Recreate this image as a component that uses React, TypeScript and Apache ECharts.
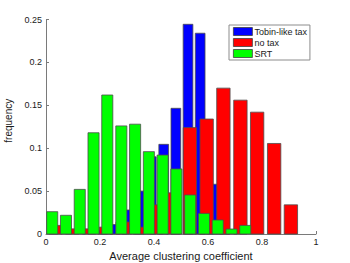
import React, { useEffect, useRef } from "react";
import * as echarts from "echarts";

// Bin centers and frequencies
const tobinCenters = [0.21, 0.255, 0.3, 0.345, 0.39, 0.436, 0.481, 0.526, 0.571, 0.616, 0.661];
const tobinValues = [0.004, 0.011, 0.028, 0.05, 0.09, 0.1045, 0.1465, 0.2444, 0.234, 0.058, 0.02];

const noTaxCenters = [0.035, 0.097, 0.16, 0.222, 0.284, 0.346, 0.408, 0.471, 0.533, 0.595, 0.657, 0.72, 0.782, 0.845, 0.907];
const noTaxValues = [0.01, 0.006, 0.006, 0.008, 0.014, 0.008, 0.034, 0.048, 0.124, 0.134, 0.17, 0.156, 0.142, 0.1055, 0.034];

const srtCenters = [0.023, 0.074, 0.125, 0.176, 0.227, 0.279, 0.33, 0.381, 0.432, 0.483, 0.534, 0.585, 0.636, 0.687, 0.738];
const srtValues = [0.026, 0.0218, 0.052, 0.118, 0.162, 0.126, 0.128, 0.096, 0.092, 0.0758, 0.0455, 0.024, 0.0163, 0.0058, 0.01];

const seriesNames = ["Tobin-like tax", "no tax", "SRT"];
const xTicks = [0, 0.2, 0.4, 0.6, 0.8, 1];
const yTicks = [0, 0.05, 0.1, 0.15, 0.2, 0.25];

const FONT = "'Liberation Sans', Arial, Helvetica, sans-serif";

function histSeries(name: string, centers: number[], values: number[], color: string, barW: number) {
  return {
    type: "custom",
    name,
    itemStyle: { color },
    data: centers.map((c, i) => [c, values[i]]),
    renderItem: (params: any, api: any) => {
      const x = api.value(0);
      const y = api.value(1);
      const p0 = api.coord([x - barW / 2, y]);
      const p1 = api.coord([x + barW / 2, 0]);
      return {
        type: "rect",
        shape: { x: p0[0], y: p0[1], width: p1[0] - p0[0], height: p1[1] - p0[1] },
        style: { fill: color, stroke: "#4d4d4d", lineWidth: 0.8 },
      };
    },
  };
}

export default function App() {
  const ref = useRef<HTMLDivElement>(null);
  useEffect(() => {
    if (!ref.current) return;
    const chart = echarts.init(ref.current, null, { renderer: "svg" });
    chart.setOption({
      animation: false,
      backgroundColor: "#ffffff",
      grid: {
        left: 46,
        top: 19.5,
        width: 270,
        height: 214.5,
        containLabel: false,
        outerBoundsMode: "none",
      },
      legend: {
        data: seriesNames,
        orient: "vertical",
        left: 229,
        top: 25,
        itemWidth: 19,
        itemHeight: 8,
        itemGap: 2,
        padding: [2, 3, 2, 4],
        borderColor: "#8c8c8c",
        borderWidth: 1,
        backgroundColor: "#ffffff",
        icon: "rect",
        itemStyle: { borderColor: "#404040", borderWidth: 0.8 },
        textStyle: { fontSize: 9, fontFamily: FONT, color: "#1a1a1a", padding: [0, 0, 0, -3] },
      },
      xAxis: {
        type: "value",
        min: xTicks[0],
        max: xTicks[xTicks.length - 1],
        interval: 0.2,
        name: "Average clustering coefficient",
        nameLocation: "middle",
        nameGap: 12,
        nameTextStyle: { fontSize: 11, fontFamily: FONT, color: "#1a1a1a" },
        axisLine: { lineStyle: { color: "#7a7a7a", width: 1 } },
        axisTick: { inside: true, length: 3, lineStyle: { color: "#7a7a7a" } },
        axisLabel: { margin: 3, fontSize: 9, fontFamily: FONT, color: "#1a1a1a" },
        splitLine: { show: false },
      },
      yAxis: {
        type: "value",
        min: yTicks[0],
        max: yTicks[yTicks.length - 1],
        interval: 0.05,
        name: "frequency",
        nameLocation: "middle",
        nameGap: 28,
        nameTextStyle: { fontSize: 10, fontFamily: FONT, color: "#1a1a1a", padding: [0, 0, 0, 12] },
        axisLine: { show: true, lineStyle: { color: "#7a7a7a", width: 1 } },
        axisTick: { show: true, inside: true, length: 3, lineStyle: { color: "#7a7a7a" } },
        axisLabel: { margin: 4, fontSize: 9, fontFamily: FONT, color: "#1a1a1a" },
        splitLine: { show: false },
      },
      series: [
        histSeries(seriesNames[0], tobinCenters, tobinValues, "#0000ff", 0.036),
        histSeries(seriesNames[1], noTaxCenters, noTaxValues, "#ff0000", 0.0495),
        histSeries(seriesNames[2], srtCenters, srtValues, "#00ff00", 0.041),
      ],
    });
    return () => chart.dispose();
  }, []);
  return (
    <div
      ref={ref}
      style={{ position: "fixed", left: 0, top: 0, width: 350, height: 263, background: "#fff" }}
    />
  );
}
